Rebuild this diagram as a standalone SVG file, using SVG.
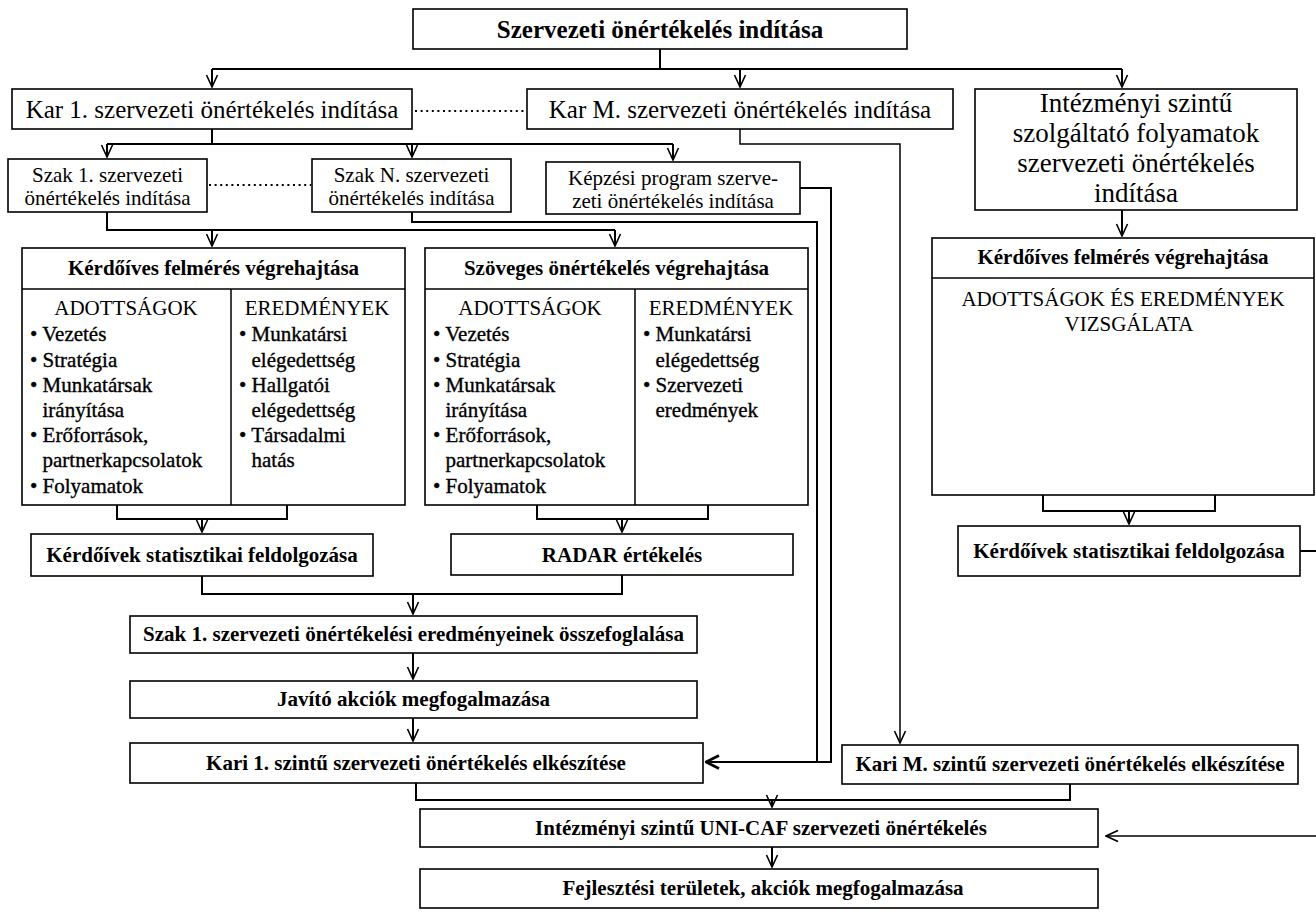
<svg xmlns="http://www.w3.org/2000/svg" width="1316" height="920" viewBox="0 0 1316 920">
<defs>
<style>
.box{fill:#fff;stroke:#000;stroke-width:1.6}
.ln{fill:none;stroke:#000;stroke-width:2}
.thin{fill:none;stroke:#000;stroke-width:1.5}
.dot{fill:none;stroke:#000;stroke-width:2.2;stroke-dasharray:2 3.6}
text{font-family:"Liberation Serif","Times New Roman",serif;fill:#000}
.b{font-weight:bold;font-size:21px;text-anchor:middle}
.r{font-size:21px}
.c{text-anchor:middle}
.it{font-size:21px;stroke:#000;stroke-width:0.35}
</style>
<marker id="a" viewBox="-13 -7 14 14" refX="0" refY="0" markerWidth="14" markerHeight="14" orient="auto" markerUnits="userSpaceOnUse">
<path d="M-12,-5.5 L0,0 L-12,5.5" fill="none" stroke="#000" stroke-width="1.6"/>
</marker>
<marker id="ab" viewBox="-15 -8 16 16" refX="0" refY="0" markerWidth="16" markerHeight="16" orient="auto" markerUnits="userSpaceOnUse">
<path d="M-13,-6.5 L0,0 L-13,6.5" fill="none" stroke="#000" stroke-width="2.6"/>
</marker>
</defs>
<rect width="1316" height="920" fill="#fff"/>

<g id="connectors">
<path class="ln" d="M660,49 V69 M212,69 H1122"/>
<path class="ln" d="M212,69 V87" marker-end="url(#a)"/>
<path class="ln" d="M740,69 V87" marker-end="url(#a)"/>
<path class="ln" d="M1122,69 V87" marker-end="url(#a)"/>
<path class="dot" d="M415,111 H526"/>
<path class="ln" d="M212,129 V144 M107,144 H673"/>
<path class="ln" d="M107,144 V157" marker-end="url(#a)"/>
<path class="ln" d="M412,144 V157" marker-end="url(#a)"/>
<path class="ln" d="M673,144 V160" marker-end="url(#a)"/>
<path class="dot" d="M209,185 H311"/>
<path class="ln" d="M107,212 V230 H615"/>
<path class="ln" d="M212,230 V246" marker-end="url(#a)"/>
<path class="ln" d="M615,230 V246" marker-end="url(#a)"/>
<path class="ln" d="M412,212 V222 H817 V762 H706" marker-end="url(#ab)"/>
<path class="ln" d="M800,188 H831 V762 H706"/>
<path class="thin" d="M740,129 V144 H900 V743" marker-end="url(#a)"/>
<path class="ln" d="M1122,210 V236" marker-end="url(#a)"/>
<path class="ln" d="M117,505 V519 H287 V505"/>
<path class="ln" d="M202,519 V532" marker-end="url(#a)"/>
<path class="ln" d="M537,505 V519 H708 V505"/>
<path class="ln" d="M622,519 V532" marker-end="url(#a)"/>
<path class="ln" d="M1043,495 V511 H1215 V495"/>
<path class="ln" d="M1129,511 V524" marker-end="url(#a)"/>
<path class="ln" d="M1300,551 H1316"/>
<path class="ln" d="M202,576 V594 H622 V575"/>
<path class="ln" d="M413,594 V614" marker-end="url(#a)"/>
<path class="ln" d="M413,653 V679" marker-end="url(#a)"/>
<path class="ln" d="M413,718 V741" marker-end="url(#a)"/>
<path class="ln" d="M416,783 V800 H1070 V784"/>
<path class="ln" d="M772,800 V807" marker-end="url(#a)"/>
<path class="thin" d="M1316,836 H1106" marker-end="url(#a)"/>
<path class="ln" d="M772,847 V867" marker-end="url(#a)"/>
</g>

<g id="n-start">
<rect class="box" x="413" y="9" width="494" height="40"/>
<text class="b" x="660" y="38" style="font-size:25px">Szervezeti önértékelés indítása</text>
</g>
<g id="n-kar1">
<rect class="box" x="12" y="89" width="400" height="40"/>
<text class="c" x="212" y="118" font-size="25">Kar 1. szervezeti önértékelés indítása</text>
</g>
<g id="n-karM">
<rect class="box" x="527" y="89" width="426" height="40"/>
<text class="c" x="740" y="118" font-size="25">Kar M. szervezeti önértékelés indítása</text>
</g>
<g id="n-intezmenyi">
<rect class="box" x="975" y="89" width="322" height="121"/>
<text class="c" x="1136" font-size="27"><tspan x="1136" y="112">Intézményi szintű</tspan><tspan x="1136" y="142">szolgáltató folyamatok</tspan><tspan x="1136" y="172">szervezeti önértékelés</tspan><tspan x="1136" y="202">indítása</tspan></text>
</g>
<g id="n-szak1">
<rect class="box" x="8" y="159" width="199" height="53"/>
<text class="c r" x="107.5"><tspan x="107.5" y="182">Szak 1. szervezeti</tspan><tspan x="107.5" y="205">önértékelés indítása</tspan></text>
</g>
<g id="n-szakN">
<rect class="box" x="312" y="159" width="199" height="53"/>
<text class="c r" x="411.5"><tspan x="411.5" y="182">Szak N. szervezeti</tspan><tspan x="411.5" y="205">önértékelés indítása</tspan></text>
</g>
<g id="n-kepzesi">
<rect class="box" x="546" y="162" width="254" height="52"/>
<text class="c r" x="673"><tspan x="673" y="185">Képzési program szerve-</tspan><tspan x="673" y="208">zeti önértékelés indítása</tspan></text>
</g>

<g id="n-kerdoives1">
<rect class="box" x="22" y="248" width="383" height="257"/>
<path class="thin" d="M22,289 H405 M231,289 V505"/>
<text class="b" x="213.5" y="275">Kérdőíves felmérés végrehajtása</text>
<text class="c r" x="126" y="315">ADOTTSÁGOK</text>
<text class="c r" x="317" y="315">EREDMÉNYEK</text>
<text class="it" x="30" y="341">• Vezetés</text>
<text class="it" x="30" y="367">• Stratégia</text>
<text class="it" x="30" y="392">• Munkatársak</text>
<text class="it" x="42.5" y="417">irányítása</text>
<text class="it" x="30" y="442">• Erőforrások,</text>
<text class="it" x="42.5" y="467">partnerkapcsolatok</text>
<text class="it" x="30" y="493">• Folyamatok</text>
<text class="it" x="239" y="341">• Munkatársi</text>
<text class="it" x="251.5" y="367">elégedettség</text>
<text class="it" x="239" y="392">• Hallgatói</text>
<text class="it" x="251.5" y="417">elégedettség</text>
<text class="it" x="239" y="442">• Társadalmi</text>
<text class="it" x="251.5" y="467">hatás</text>
</g>

<g id="n-szoveges">
<rect class="box" x="425" y="248" width="383" height="257"/>
<path class="thin" d="M425,289 H808 M635,289 V505"/>
<text class="b" x="616.5" y="275">Szöveges önértékelés végrehajtása</text>
<text class="c r" x="530" y="315">ADOTTSÁGOK</text>
<text class="c r" x="721" y="315">EREDMÉNYEK</text>
<text class="it" x="433" y="341">• Vezetés</text>
<text class="it" x="433" y="367">• Stratégia</text>
<text class="it" x="433" y="392">• Munkatársak</text>
<text class="it" x="445.5" y="417">irányítása</text>
<text class="it" x="433" y="442">• Erőforrások,</text>
<text class="it" x="445.5" y="467">partnerkapcsolatok</text>
<text class="it" x="433" y="493">• Folyamatok</text>
<text class="it" x="643" y="341">• Munkatársi</text>
<text class="it" x="655.5" y="367">elégedettség</text>
<text class="it" x="643" y="392">• Szervezeti</text>
<text class="it" x="655.5" y="417">eredmények</text>
</g>

<g id="n-kerdoives2">
<rect class="box" x="932" y="238" width="382" height="257"/>
<path class="thin" d="M932,278 H1314"/>
<text class="b" x="1123" y="264">Kérdőíves felmérés végrehajtása</text>
<text class="c r" x="1123" y="306">ADOTTSÁGOK ÉS EREDMÉNYEK</text>
<text class="c r" x="1129" y="331">VIZSGÁLATA</text>
</g>

<g id="n-stat1">
<rect class="box" x="31" y="534" width="342" height="42"/>
<text class="b" x="202" y="562">Kérdőívek statisztikai feldolgozása</text>
</g>
<g id="n-radar">
<rect class="box" x="451" y="534" width="342" height="41"/>
<text class="b" x="622" y="562">RADAR értékelés</text>
</g>
<g id="n-stat2">
<rect class="box" x="958" y="526" width="342" height="50"/>
<text class="b" x="1129" y="558">Kérdőívek statisztikai feldolgozása</text>
</g>
<g id="n-osszefoglalas">
<rect class="box" x="130" y="616" width="567" height="37"/>
<text class="b" x="413.5" y="641">Szak 1. szervezeti önértékelési eredményeinek összefoglalása</text>
</g>
<g id="n-javito">
<rect class="box" x="130" y="681" width="567" height="37"/>
<text class="b" x="413.5" y="706">Javító akciók megfogalmazása</text>
</g>
<g id="n-kari1">
<rect class="box" x="130" y="743" width="573" height="40"/>
<text class="b" x="416" y="770">Kari 1. szintű szervezeti önértékelés elkészítése</text>
</g>
<g id="n-kariM">
<rect class="box" x="842" y="745" width="456" height="39"/>
<text class="b" x="1070" y="771">Kari M. szintű szervezeti önértékelés elkészítése</text>
</g>
<g id="n-unicaf">
<rect class="box" x="420" y="809" width="678" height="38"/>
<text class="b" x="761" y="835">Intézményi szintű UNI-CAF szervezeti önértékelés</text>
</g>
<g id="n-fejlesztesi">
<rect class="box" x="420" y="869" width="678" height="39"/>
<text class="b" x="763" y="895">Fejlesztési területek, akciók megfogalmazása</text>
</g>
</svg>
